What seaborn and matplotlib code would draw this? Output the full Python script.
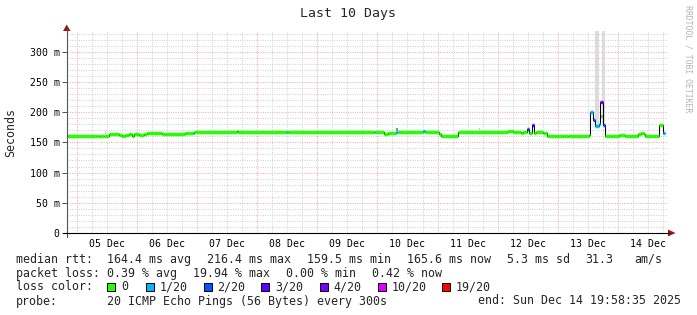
import numpy as np
import pandas as pd
import matplotlib
matplotlib.use("Agg")
import matplotlib.pyplot as plt
import matplotlib.dates as mdates
import seaborn as sns
from matplotlib.patches import Rectangle, Polygon
from matplotlib.lines import Line2D

# ---------------- data ----------------
times = [
    "2025-12-04 19:58", "2025-12-05 08:00", "2025-12-05 09:20", "2025-12-05 10:40",
    "2025-12-05 12:40", "2025-12-05 15:20", "2025-12-05 16:40", "2025-12-05 18:00",
    "2025-12-05 19:20", "2025-12-05 20:40", "2025-12-05 22:00", "2025-12-05 22:40",
    "2025-12-06 00:40", "2025-12-06 02:40", "2025-12-06 04:00", "2025-12-06 10:00",
    "2025-12-06 10:40", "2025-12-06 19:20", "2025-12-06 22:25", "2025-12-06 22:55",
    "2025-12-07 15:45", "2025-12-07 16:30", "2025-12-08 12:05", "2025-12-08 12:30",
    "2025-12-09 22:30", "2025-12-09 22:55", "2025-12-10 02:30", "2025-12-10 04:05",
    "2025-12-10 07:20", "2025-12-10 08:05", "2025-12-10 18:05", "2025-12-10 18:55",
    "2025-12-11 00:30", "2025-12-11 01:20", "2025-12-11 08:05", "2025-12-12 04:05",
    "2025-12-12 06:05", "2025-12-12 09:20", "2025-12-12 10:05", "2025-12-12 11:45",
    "2025-12-12 12:30", "2025-12-12 13:45", "2025-12-12 14:30", "2025-12-12 15:20",
    "2025-12-12 18:05", "2025-12-12 19:45", "2025-12-12 23:20", "2025-12-13 02:05",
    "2025-12-13 04:05", "2025-12-13 12:30", "2025-12-13 12:50", "2025-12-13 14:10",
    "2025-12-13 14:40", "2025-12-13 15:00", "2025-12-13 16:25", "2025-12-13 16:50",
    "2025-12-13 18:00", "2025-12-13 18:55", "2025-12-13 21:20", "2025-12-14 00:30",
    "2025-12-14 02:55", "2025-12-14 08:00", "2025-12-14 09:20", "2025-12-14 10:30",
    "2025-12-14 10:55", "2025-12-14 16:30", "2025-12-14 18:00",
]
median_ms = [
    161, 160, 161, 160,
    163, 164, 162, 160,
    161.5, 163, 160, 163,
    162, 163, 166, 163.5,
    164.5, 165.5, 166, 166.5,
    168, 166.5, 166.5, 166.5,
    166.5, 166.5, 164, 166,
    167, 166.5, 169, 166.5,
    164, 161, 166.5, 168,
    166.5, 165, 166.5, 172,
    165, 178, 165, 166.5,
    166, 161, 160, 161,
    160, 162, 201, 187,
    182, 177, 181, 216,
    178, 161, 160, 162,
    161, 163, 165, 163,
    160, 178, 166,
]
loss_of_20 = [
    0, 0, 0, 0,
    0, 0, 0, 0,
    0, 0, 0, 0,
    0, 0, 0, 0,
    0, 0, 1, 0,
    0, 0, 1, 0,
    1, 0, 0, 0,
    1, 0, 1, 0,
    0, 0, 0, 0,
    0, 0, 0, 2,
    0, 3, 0, 0,
    0, 0, 0, 0,
    0, 0, 1, 2,
    1, 1, 1, 4,
    2, 0, 0, 0,
    0, 0, 0, 0,
    0, 0, 1,
]
last_time = "2025-12-14 18:55"

smoke_start = ["2025-12-13 14:40", "2025-12-13 17:35", "2025-12-13 14:40", "2025-12-13 16:50",
               "2025-12-10 07:20", "2025-12-11 16:25", "2025-12-05 11:20"]
smoke_end = ["2025-12-13 16:15", "2025-12-13 18:55", "2025-12-13 15:20", "2025-12-13 17:55",
             "2025-12-10 08:05", "2025-12-11 16:55", "2025-12-05 11:50"]
smoke_low = [178, 178, 182, 190, 169, 170, 164]
smoke_high = [400, 400, 186, 195, 174, 173, 168]
smoke_shade = ["#dcdcdc", "#dcdcdc", "#8c8c8c", "#a8a8a8", "#8a8a8a", "#c0c0c0", "#c8c8c8"]

loss_levels = [0, 1, 2, 3, 4, 10, 19]
loss_labels = ["0", "1/20", "2/20", "3/20", "4/20", "10/20", "19/20"]
loss_colors = ["#26ff00", "#00b8ff", "#0059ff", "#5e00ff", "#7e00ff", "#dd00ff", "#ff0000"]

ytick_vals = [0, 50, 100, 150, 200, 250, 300]
ytick_labels = ["0", "50 m", "100 m", "150 m", "200 m", "250 m", "300 m"]
day_labels = ["05 Dec", "06 Dec", "07 Dec", "08 Dec", "09 Dec",
              "10 Dec", "11 Dec", "12 Dec", "13 Dec", "14 Dec"]

title = "Last 10 Days"
ylabel = "Seconds"
side_text = "RRDTOOL / TOBI OETIKER"
stats_median = ["164.4 ms avg", "216.4 ms max", "159.5 ms min", "165.6 ms now", "5.3 ms sd", "31.3", "am/s"]
stats_loss = ["0.39 % avg", "19.94 % max", "0.00 % min", "0.42 % now"]
probe_text = "20 ICMP Echo Pings (56 Bytes) every 300s"
end_text = "end: Sun Dec 14 19:58:35 2025"

# ---------------- figure ----------------
W, H = 697, 315
MONO = "DejaVu Sans Mono"
sns.set_theme(style="white")
plt.rcParams["font.family"] = [MONO]

fig = plt.figure(figsize=(W / 100, H / 100), dpi=100, facecolor="white")


def fx(x):
    return x / W


def fy(y):
    return 1 - y / H


ax_left, ax_right, ax_top, ax_bot = 66.7, 668.0, 31.0, 233.0
ax = fig.add_axes([fx(ax_left), fy(ax_bot), (ax_right - ax_left) / W, (ax_bot - ax_top) / H])
ax.set_facecolor("white")
for s in ax.spines.values():
    s.set_visible(False)

start = pd.Timestamp("2025-12-04 19:58:35")
end = pd.Timestamp("2025-12-14 19:58:35")
x0, x1 = mdates.date2num(start), mdates.date2num(end)
ax.set_xlim(x0, x1)
ymax = (ax_bot - ax_top) / ((233 - 51.7) / 300)
ax.set_ylim(0, ymax)

# grid
minor_c = "#d2d2d2"
major_c = "#f2abab"
dot = (0, (1, 1.3))
for v in np.arange(10, ymax, 10):
    if v % 50:
        ax.axhline(v, color=minor_c, lw=0.72, ls=dot, zorder=0.5)
for v in ytick_vals[1:]:
    ax.axhline(v, color=major_c, lw=0.72, ls=dot, zorder=0.6)
six = pd.date_range("2025-12-04 18:00", "2025-12-14 18:00", freq="6h")
for t in six:
    tn = mdates.date2num(t)
    if x0 < tn < x1:
        if t.hour == 0:
            ax.axvline(tn, color=major_c, lw=0.72, ls=dot, zorder=0.6)
        else:
            ax.axvline(tn, color=minor_c, lw=0.72, ls=dot, zorder=0.5)

# smoke
for s0, s1, lo, hi, c in zip(smoke_start, smoke_end, smoke_low, smoke_high, smoke_shade):
    a, b = mdates.date2num(pd.Timestamp(s0)), mdates.date2num(pd.Timestamp(s1))
    ax.fill_between([a, b], [lo, lo], [hi, hi], color=c, lw=0, zorder=1)

# median line (black step) + loss-coloured segments
tnum = mdates.date2num(pd.to_datetime(times + [last_time]))
df = pd.DataFrame({"t": tnum, "median": median_ms + [median_ms[-1]]})
sns.lineplot(data=df, x="t", y="median", drawstyle="steps-post", color="black",
             lw=0.75, ax=ax, zorder=2, sort=False)


def loss_color(n):
    c = loss_colors[0]
    for lv, col in zip(loss_levels, loss_colors):
        if n >= lv:
            c = col
    return c


seg_colors = [loss_color(n) for n in loss_of_20]
ax.hlines(median_ms, tnum[:-1], tnum[1:], colors=seg_colors, lw=2.5, zorder=3,
          capstyle="butt")

# ticks
ax.set_yticks(ytick_vals, ytick_labels)
noons = [mdates.date2num(pd.Timestamp(f"2025-12-{d:02d} 12:00")) for d in range(5, 15)]
ax.set_xticks(noons, day_labels)
ax.tick_params(axis="y", length=3.4, width=0.72, color="#555555", pad=1.6,
               labelsize=7.1, labelcolor="black", left=True)
ax.tick_params(axis="x", length=0, pad=4.0, labelsize=7.1, labelcolor="black", bottom=True)
for lab in ax.get_xticklabels() + ax.get_yticklabels():
    lab.set_fontfamily(MONO)
ax.set_xlabel("")
ax.set_ylabel("")

# axes lines & arrows
fig.add_artist(Line2D([fx(66.7), fx(66.7)], [fy(237), fy(30)], color="#555555", lw=0.8))
fig.add_artist(Line2D([fx(62.5), fx(669)], [fy(233), fy(233)], color="black", lw=0.8))
arrow_c = "#8e1b1b"
fig.add_artist(Polygon([(fx(63), fy(31)), (fx(70.5), fy(31)), (fx(66.7), fy(24.5))],
                       closed=True, color=arrow_c, lw=0))
fig.add_artist(Polygon([(fx(668), fy(229.5)), (fx(668), fy(236.5)), (fx(675.5), fy(233))],
                       closed=True, color=arrow_c, lw=0))

# titles
fig.text(fx(348), fy(14), title, ha="center", va="center", fontsize=9.5, family=MONO)
fig.text(fx(10.5), fy(132), ylabel, ha="center", va="center", rotation=90, fontsize=8.4,
         family=MONO)
fig.text(fx(688), fy(5), side_text, ha="center", va="top", rotation=270, fontsize=5.9,
         family=MONO, color="#b4b4b4")

# legend / stats
FS = 8.4
row_y = [259.3, 273.3, 287.0, 301.0]
fig.text(fx(15.5), fy(row_y[0]), "median rtt:", va="center", fontsize=FS, family=MONO)
for txt, xp in zip(stats_median, [107.1, 206.6, 306.8, 406.8, 506.8, 585.5, 634.5]):
    fig.text(fx(xp), fy(row_y[0]), txt, va="center", fontsize=FS, family=MONO)
fig.text(fx(15.5), fy(row_y[1]), "packet loss:", va="center", fontsize=FS, family=MONO)
for txt, xp in zip(stats_loss, [107.1, 193.2, 285.8, 372.2]):
    fig.text(fx(xp), fy(row_y[1]), txt, va="center", fontsize=FS, family=MONO)
fig.text(fx(15.5), fy(row_y[2]), "loss color:", va="center", fontsize=FS, family=MONO)
for lab, col, xt in zip(loss_labels, loss_colors, [121.3, 159.5, 217.5, 275.1, 333.5, 391.7, 456.0]):
    bx = xt - 14.0
    fig.add_artist(Rectangle((fx(bx), fy(row_y[2] + 4)), 8 / W, 8 / H, facecolor=col,
                             edgecolor="black", lw=0.7))
    fig.text(fx(xt), fy(row_y[2]), lab, va="center", fontsize=FS, family=MONO)
fig.text(fx(15.5), fy(row_y[3]), "probe:", va="center", fontsize=FS, family=MONO)
fig.text(fx(107.1), fy(row_y[3]), probe_text, va="center", fontsize=FS, family=MONO)
fig.text(fx(477.8), fy(row_y[3]), end_text, va="center", fontsize=FS, family=MONO)

fig.savefig("out.png", dpi=100, facecolor="white")
